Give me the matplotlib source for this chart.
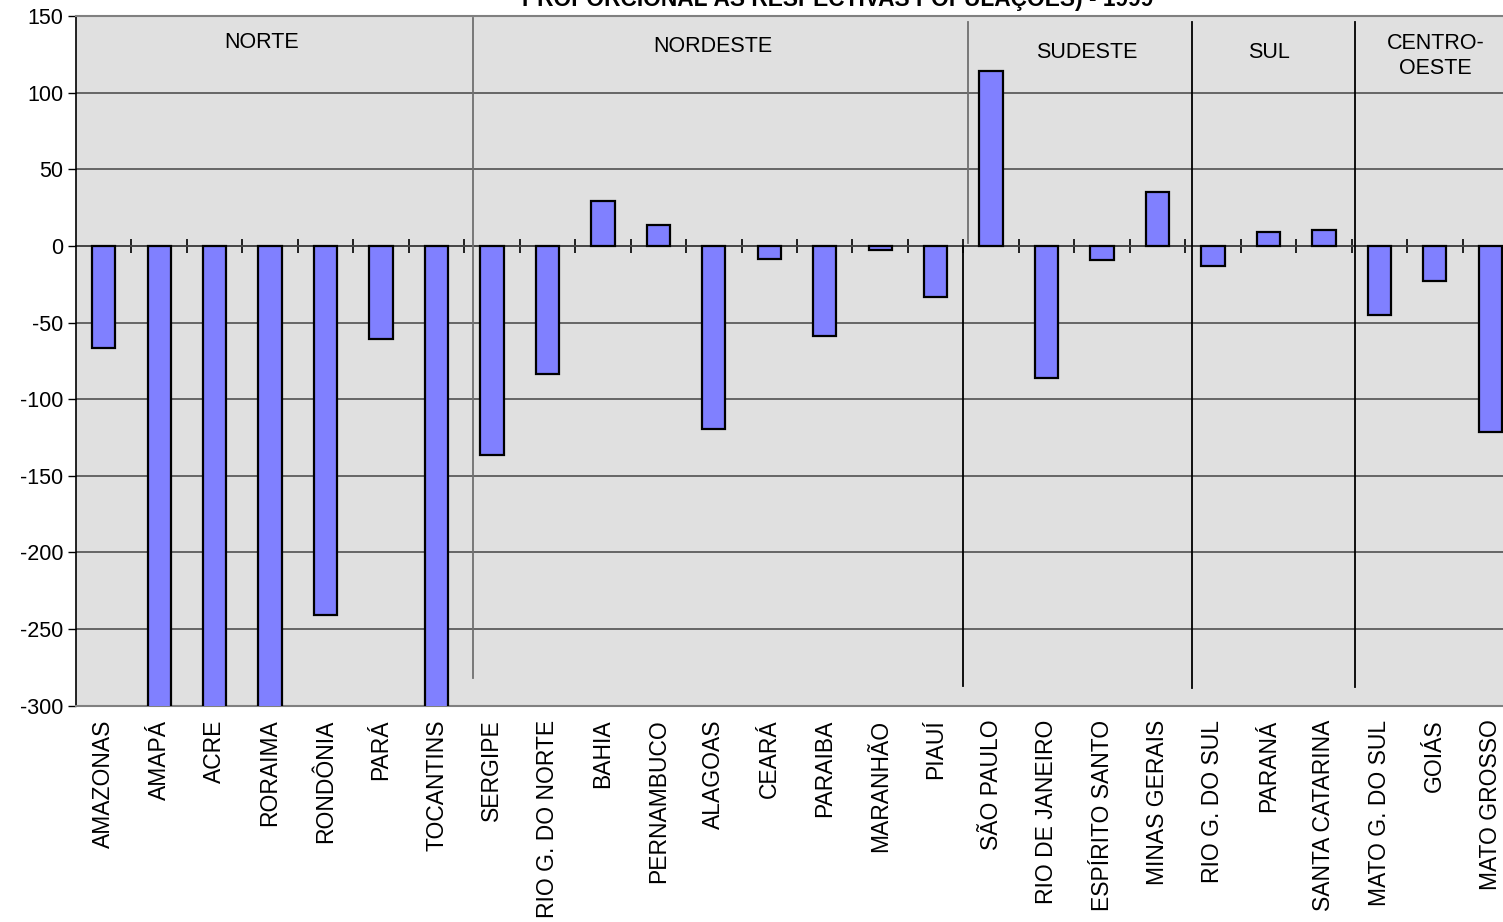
import numpy as np
import matplotlib
matplotlib.use("Agg")
import matplotlib.pyplot as plt

plt.rcParams['font.family'] = ['Liberation Sans', 'DejaVu Sans']

# ---- dados
estados = ['AMAZONAS', 'AMAPÁ', 'ACRE', 'RORAIMA', 'RONDÔNIA', 'PARÁ', 'TOCANTINS',
           'SERGIPE', 'RIO G. DO NORTE', 'BAHIA', 'PERNAMBUCO', 'ALAGOAS', 'CEARÁ',
           'PARAIBA', 'MARANHÃO', 'PIAUÍ',
           'SÃO PAULO', 'RIO DE JANEIRO', 'ESPÍRITO SANTO', 'MINAS GERAIS',
           'RIO G. DO SUL', 'PARANÁ', 'SANTA CATARINA',
           'MATO G. DO SUL', 'GOIÁS', 'MATO GROSSO']
valores = [-66.6, -420, -380, -520, -240.8, -60.7, -330,
           -136.4, -83.6, 29.3, 13.6, -119.2, -8.4, -58.7, -2.7, -33.6,
           114.1, -86.2, -9.2, 35.4,
           -12.9, 9.3, 10.4,
           -45.1, -22.9, -121.2]
regioes = ['NORTE', 'NORDESTE', 'SUDESTE', 'SUL', 'CENTRO-\nOESTE']
y_ticks = [150, 100, 50, 0, -50, -100, -150, -200, -250, -300]
titulo = 'PROPORCIONAL ÀS RESPECTIVAS POPULAÇÕES) - 1999'

# ---- figura (o grafico original esta cortado a direita e em cima)
fig = plt.figure(figsize=(15.03, 9.22), dpi=100)
ax = fig.add_axes([76 / 1503, 1 - 705.7 / 922, 1442 / 1503, 689.7 / 922])
ax.set_facecolor('#E0E0E0')

x = np.arange(len(estados))
ax.bar(x, valores, width=0.42, color='#8080FF', edgecolor='black', linewidth=1.6, zorder=3)

ax.set_xlim(-0.5, len(estados) - 0.5)
ax.set_ylim(-300, 150)
ax.set_yticks(y_ticks)
ax.set_yticklabels([str(v) for v in y_ticks], fontsize=15.5)
ax.yaxis.grid(True, color='#505050', linewidth=1.2, zorder=0)
ax.set_axisbelow(True)
ax.tick_params(axis='y', length=6, width=1, direction='out', pad=3)

ax.set_xticks(x)
ax.set_xticklabels(estados, rotation=90, fontsize=16.5)
ax.tick_params(axis='x', length=0, pad=10)

for s in ['top', 'bottom']:
    ax.spines[s].set_color('#808080')
    ax.spines[s].set_linewidth(1.5)
ax.spines['left'].set_color('black')
ax.spines['left'].set_linewidth(1.2)
ax.spines['right'].set_visible(False)

# eixo no zero com marcas entre categorias
eixo0 = ax.secondary_xaxis(300 / 450)
eixo0.set_xticks(np.arange(0.5, len(estados) - 1, 1.0))
eixo0.tick_params(axis='x', direction='inout', length=10, width=1.2, labelbottom=False,
                  labeltop=False, colors='black')
eixo0.spines['bottom'].set_color('black')
eixo0.spines['bottom'].set_linewidth(1.2)
eixo0.spines['top'].set_color('black')
eixo0.spines['top'].set_linewidth(1.2)

# linhas separando regioes
sep = [(6.654, -281.7, 148.7, '#707070'),
       (15.58, 2.2, 146.0, '#707070'),
       (15.49, -287.4, 0, 'black'),
       (19.63, -288.3, 146.0, 'black'),
       (22.57, -287.6, 146.0, 'black')]
for xs, y0, y1, c in sep:
    ax.plot([xs, xs], [y0, y1], color=c, linewidth=1.3, zorder=4)

pos_reg = [(2.854, 132.7), (10.99, 129.8), (17.73, 126.5), (21.01, 126.5), (24.01, 123.6)]
for nome, (xr, yr) in zip(regioes, pos_reg):
    ax.text(xr, yr, nome, ha='center', va='center', fontsize=15.5, linespacing=1.25, zorder=5)

fig.text(838 / 1503, 1 - 6 / 922, titulo, ha='center', va='baseline',
         fontsize=16.4, fontweight='bold')

fig.savefig('out.png', dpi=100)
